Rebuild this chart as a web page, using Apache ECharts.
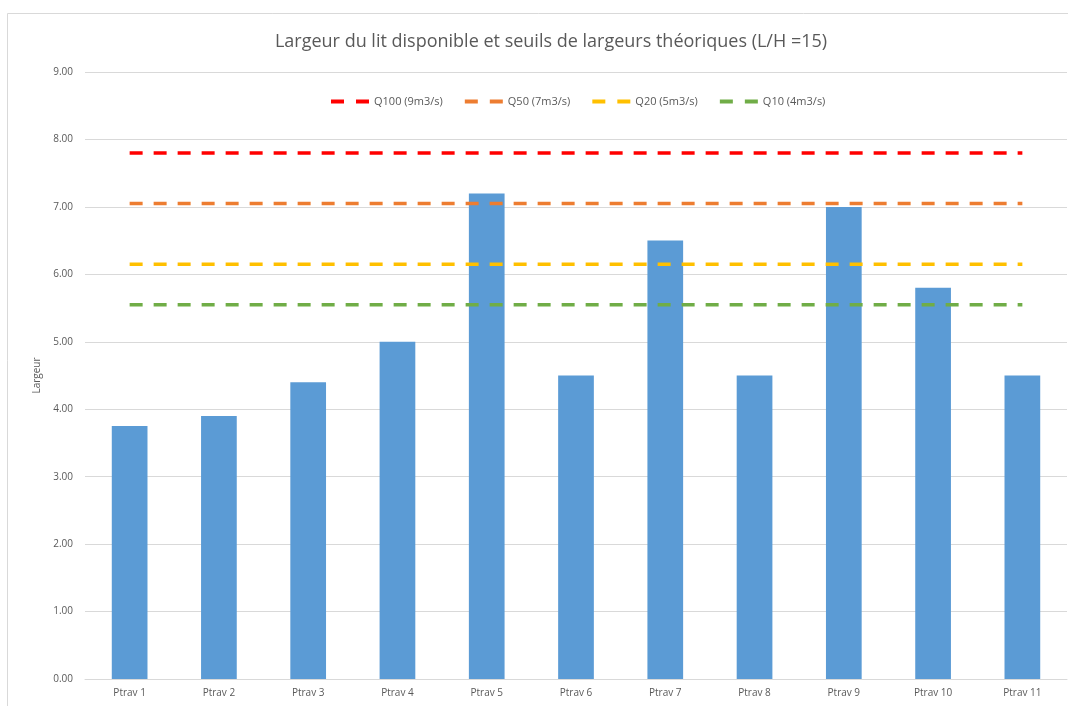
<!DOCTYPE html>
<html>
<head>
<meta charset="utf-8">
<script src="https://cdn.jsdelivr.net/npm/echarts@6/dist/echarts.min.js"></script>
<style>
  html, body { margin: 0; padding: 0; background: #ffffff; }
  #chart { width: 1068px; height: 706px; }
</style>
</head>
<body>
<div id="chart"></div>
<script>
// Cross-section points along the reach
const categories = ['Ptrav 1', 'Ptrav 2', 'Ptrav 3', 'Ptrav 4', 'Ptrav 5', 'Ptrav 6',
                    'Ptrav 7', 'Ptrav 8', 'Ptrav 9', 'Ptrav 10', 'Ptrav 11'];

// Available bed width (m) at each point
const largeur = [3.75, 3.90, 4.40, 5.00, 7.20, 4.50, 6.50, 4.50, 7.00, 5.80, 4.50];

// Theoretical width thresholds for each flood flow (L/H = 15)
const q100 = [7.80, 7.80, 7.80, 7.80, 7.80, 7.80, 7.80, 7.80, 7.80, 7.80, 7.80];
const q50  = [7.05, 7.05, 7.05, 7.05, 7.05, 7.05, 7.05, 7.05, 7.05, 7.05, 7.05];
const q20  = [6.15, 6.15, 6.15, 6.15, 6.15, 6.15, 6.15, 6.15, 6.15, 6.15, 6.15];
const q10  = [5.55, 5.55, 5.55, 5.55, 5.55, 5.55, 5.55, 5.55, 5.55, 5.55, 5.55];

const thresholdNames = ['Q100 (9m3/s)', 'Q50 (7m3/s)', 'Q20 (5m3/s)', 'Q10 (4m3/s)'];
const thresholdData = [q100, q50, q20, q10];
const thresholdColors = ['#ff0000', '#ed7d31', '#ffc000', '#70ad47'];

const FONT = '"Open Sans", Lato, sans-serif';
const TEXT = '#595959';

const chart = echarts.init(document.getElementById('chart'), null, { renderer: 'canvas' });

const thresholdSeries = thresholdNames.map((name, i) => ({
  name: name,
  type: 'line',
  data: thresholdData[i],
  symbol: 'none',
  silent: true,
  z: 3,
  lineStyle: { color: thresholdColors[i], width: 3.5, type: [13, 11], cap: 'butt' },
  itemStyle: { color: thresholdColors[i] }
}));

chart.setOption({
  animation: false,
  backgroundColor: '#ffffff',
  textStyle: { fontFamily: FONT },
  graphic: [{
    type: 'rect',
    silent: true,
    z: -10,
    shape: { x: 7.5, y: 13.5, width: 1200, height: 900 },
    style: { fill: 'none', stroke: '#d9d9d9', lineWidth: 1 }
  }],
  title: {
    text: 'Largeur du lit disponible et seuils de largeurs théoriques (L/H =15)',
    left: 546,
    textAlign: 'center',
    top: 28,
    textStyle: { fontFamily: FONT, fontSize: 18, fontWeight: 'normal', color: TEXT }
  },
  legend: {
    data: thresholdNames,
    left: 326,
    top: 91,
    itemWidth: 38,
    itemHeight: 4,
    itemGap: 22,
    icon: 'path://M0,0 H13 V4 H0 Z M25,0 H38 V4 H25 Z',
    textStyle: { fontFamily: FONT, fontSize: 11, color: TEXT }
  },
  grid: { left: 85, top: 72, width: 982, height: 607, containLabel: false },
  xAxis: {
    type: 'category',
    data: categories,
    axisLine: { lineStyle: { color: '#d9d9d9', width: 1 } },
    axisTick: { show: false },
    axisLabel: { fontFamily: FONT, fontSize: 10, color: TEXT, margin: 9 }
  },
  yAxis: {
    type: 'value',
    min: 0,
    max: 9,
    interval: 1,
    name: 'Largeur',
    nameLocation: 'middle',
    nameGap: 42,
    nameRotate: 90,
    nameTextStyle: { fontFamily: FONT, fontSize: 10, color: TEXT },
    axisLine: { show: false },
    axisTick: { show: false },
    axisLabel: {
      fontFamily: FONT, fontSize: 10, color: TEXT, margin: 12,
      formatter: v => v.toFixed(2)
    },
    splitLine: { lineStyle: { color: '#d9d9d9', width: 1 } }
  },
  series: [{
    name: 'Largeur',
    type: 'bar',
    data: largeur,
    barWidth: '40%',
    z: 2,
    itemStyle: { color: '#5b9bd5' }
  }].concat(thresholdSeries)
});
</script>
</body>
</html>
